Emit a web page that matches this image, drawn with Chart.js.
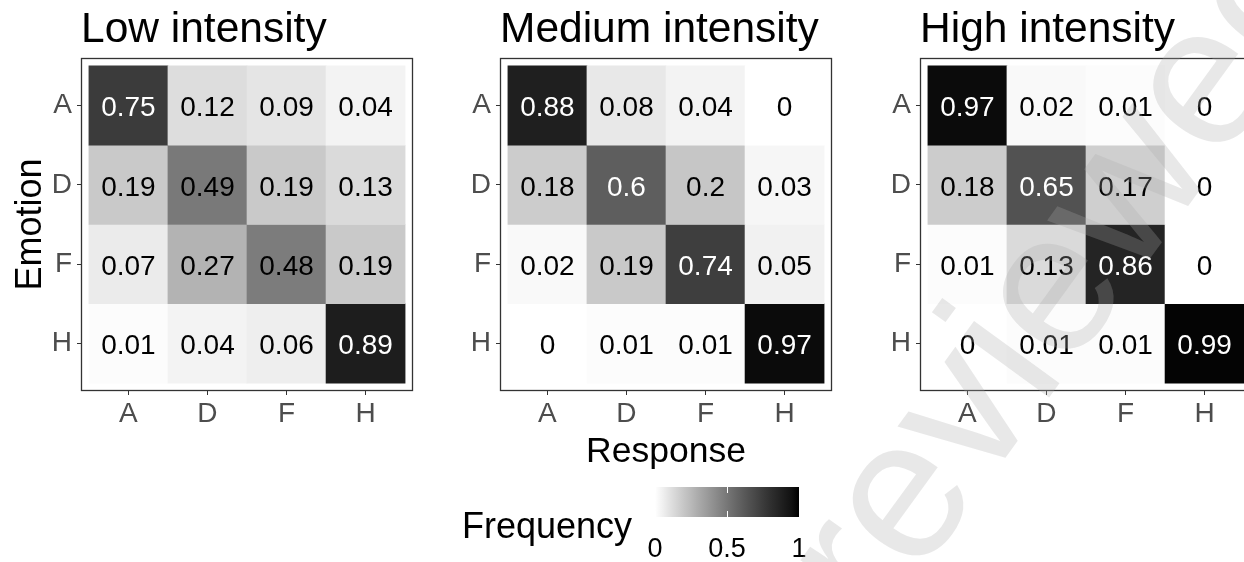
<!DOCTYPE html>
<html>
<head>
<meta charset="utf-8">
<script src="https://cdn.jsdelivr.net/npm/chart.js@4.4.1/dist/chart.umd.min.js"></script>
<style>
  html, body { margin: 0; padding: 0; background: #fff; overflow: hidden; }
  #wrap { position: relative; width: 1244px; height: 562px; overflow: hidden; }
  .panel { position: absolute; top: 0; width: 420px; height: 562px; }
  #mark { position: absolute; left: 0; top: 0; pointer-events: none; }
</style>
</head>
<body>
<div id="wrap">
  <div class="panel" style="left:0"><canvas id="low" width="420" height="562"></canvas></div>
  <div class="panel" style="left:420px"><canvas id="medium" width="420" height="562"></canvas></div>
  <div class="panel" style="left:840px"><canvas id="high" width="420" height="562"></canvas></div>
  <canvas id="mark" width="1244" height="562"></canvas>
</div>
<script>
// rows = Emotion (top to bottom), columns = Response
const emotions = ['A', 'D', 'F', 'H'];
const responses = ['A', 'D', 'F', 'H'];

const lowIntensity = [
  [0.75, 0.12, 0.09, 0.04],
  [0.19, 0.49, 0.19, 0.13],
  [0.07, 0.27, 0.48, 0.19],
  [0.01, 0.04, 0.06, 0.89]
];
const mediumIntensity = [
  [0.88, 0.08, 0.04, 0],
  [0.18, 0.6, 0.2, 0.03],
  [0.02, 0.19, 0.74, 0.05],
  [0, 0.01, 0.01, 0.97]
];
const highIntensity = [
  [0.97, 0.02, 0.01, 0],
  [0.18, 0.65, 0.17, 0],
  [0.01, 0.13, 0.86, 0],
  [0, 0.01, 0.01, 0.99]
];
const legendTicks = [0, 0.5, 1];
const watermark = 'reviewed';

const FONT = '"Liberation Sans", Arial, Helvetica, sans-serif';

// white -> black, interpolated on Lab lightness like ggplot's gradient
function greyFor(v) {
  const L = 100 * (1 - v);
  const fy = (L + 16) / 116;
  const Y = L > 8 ? fy * fy * fy : L / 903.3;
  const c = Y <= 0.0031308 ? 12.92 * Y : 1.055 * Math.pow(Y, 1 / 2.4) - 0.055;
  const g = Math.round(255 * Math.min(1, Math.max(0, c)));
  return 'rgb(' + g + ',' + g + ',' + g + ')';
}

// cell labels, panel frame and titles
const heatDecor = {
  id: 'heatDecor',
  afterDatasetsDraw(chart, args, opts) {
    const { ctx, chartArea, scales: { x, y } } = chart;
    ctx.save();
    ctx.font = '28px ' + FONT;
    ctx.textAlign = 'center';
    ctx.textBaseline = 'middle';
    opts.values.forEach((row, i) => {
      row.forEach((v, j) => {
        ctx.fillStyle = v > 0.5 ? '#ffffff' : '#000000';
        ctx.fillText(String(v), x.getPixelForValue(j + 1), y.getPixelForValue(emotions.length - i) + 3);
      });
    });

    ctx.strokeStyle = '#333333';
    ctx.lineWidth = 1.3;
    ctx.strokeRect(chartArea.left + 0.5, chartArea.top + 0.5, chartArea.width - 1, chartArea.height - 1);

    ctx.fillStyle = '#000000';
    ctx.textAlign = 'left';
    ctx.textBaseline = 'alphabetic';
    ctx.font = '42.5px ' + FONT;
    ctx.fillText(opts.title, chartArea.left, 42);

    if (opts.yTitle) {
      ctx.save();
      ctx.font = '36px ' + FONT;
      ctx.textAlign = 'center';
      ctx.translate(41, (chartArea.top + chartArea.bottom) / 2);
      ctx.rotate(-Math.PI / 2);
      ctx.fillText(opts.yTitle, 0, 0);
      ctx.restore();
    }
    if (opts.xTitle) {
      ctx.font = '35.5px ' + FONT;
      ctx.textAlign = 'center';
      ctx.fillText(opts.xTitle, (chartArea.left + chartArea.right) / 2, 462);
    }
    if (opts.legend) {
      const lg = opts.legend;
      ctx.font = '36px ' + FONT;
      ctx.textAlign = 'left';
      ctx.fillText(lg.title, lg.titleX, 538);
      const grad = ctx.createLinearGradient(lg.x, 0, lg.x + lg.w, 0);
      for (let k = 0; k <= 20; k++) grad.addColorStop(k / 20, greyFor(k / 20));
      ctx.fillStyle = grad;
      ctx.fillRect(lg.x, lg.y, lg.w, lg.h);
      ctx.strokeStyle = '#ffffff';
      ctx.lineWidth = 1;
      ctx.font = '27px ' + FONT;
      ctx.textAlign = 'center';
      legendTicks.forEach(t => {
        const px = Math.round(lg.x + t * lg.w) + 0.5;
        ctx.beginPath();
        ctx.moveTo(px, lg.y); ctx.lineTo(px, lg.y + lg.h / 5);
        ctx.moveTo(px, lg.y + lg.h); ctx.lineTo(px, lg.y + lg.h * 4 / 5);
        ctx.stroke();
        ctx.fillStyle = '#000000';
        ctx.fillText(String(t), lg.x + t * lg.w, 557);
      });
    }
    ctx.restore();
  }
};

function makePanel(id, values, frameLeft, decor) {
  const datasets = values.map((row, i) => ({
    label: emotions[i],
    data: row.map((v, j) => ({ x: j + 1, y: [emotions.length - i - 0.5, emotions.length - i + 0.5] })),
    backgroundColor: row.map(greyFor),
    borderWidth: 0,
    grouped: false,
    barPercentage: 1,
    categoryPercentage: 1
  }));
  const tickOpts = { color: '#4d4d4d', font: { family: FONT, size: 28 }, autoSkip: false, maxRotation: 0 };
  const gridOpts = { offset: false, drawOnChartArea: false, drawTicks: true, tickLength: 4, tickColor: '#333333', tickWidth: 1 };
  return new Chart(document.getElementById(id), {
    type: 'bar',
    data: { datasets },
    options: {
      responsive: false,
      animation: false,
      layout: { padding: { top: 58, right: 420 - frameLeft - 332, bottom: 0, left: 0 } },
      plugins: {
        legend: { display: false },
        tooltip: { enabled: false },
        heatDecor: decor
      },
      scales: {
        x: {
          type: 'linear', min: 0.4, max: 4.6, offset: false,
          afterBuildTicks: s => { s.ticks = responses.map((r, j) => ({ value: j + 1 })); },
          afterFit: s => { s.height = 171; },
          ticks: Object.assign({}, tickOpts, { padding: 2, callback: v => responses[v - 1] }),
          grid: gridOpts,
          border: { display: false }
        },
        y: {
          type: 'linear', min: 0.4, max: 4.6, offset: false,
          afterBuildTicks: s => { s.ticks = emotions.map((e, i) => ({ value: i + 1 })); },
          afterFit: s => { s.width = frameLeft; },
          ticks: Object.assign({}, tickOpts, { padding: 5, callback: v => emotions[emotions.length - v] }),
          grid: gridOpts,
          border: { display: false }
        }
      }
    },
    plugins: [heatDecor]
  });
}

makePanel('low', lowIntensity, 81, { values: lowIntensity, title: 'Low intensity', yTitle: 'Emotion' });
makePanel('medium', mediumIntensity, 80, {
  values: mediumIntensity, title: 'Medium intensity', xTitle: 'Response',
  legend: { title: 'Frequency', titleX: 42, x: 235, y: 487, w: 144, h: 30 }
});
makePanel('high', highIntensity, 80, { values: highIntensity, title: 'High intensity' });

// faint diagonal watermark over the figure
const mk = document.getElementById('mark').getContext('2d');
mk.save();
mk.translate(878, 633);
mk.rotate(-54 * Math.PI / 180);
mk.font = '200px ' + FONT;
mk.fillStyle = 'rgba(170,170,170,0.27)';
mk.fillText(watermark, 0, 0);
mk.restore();
</script>
</body>
</html>
